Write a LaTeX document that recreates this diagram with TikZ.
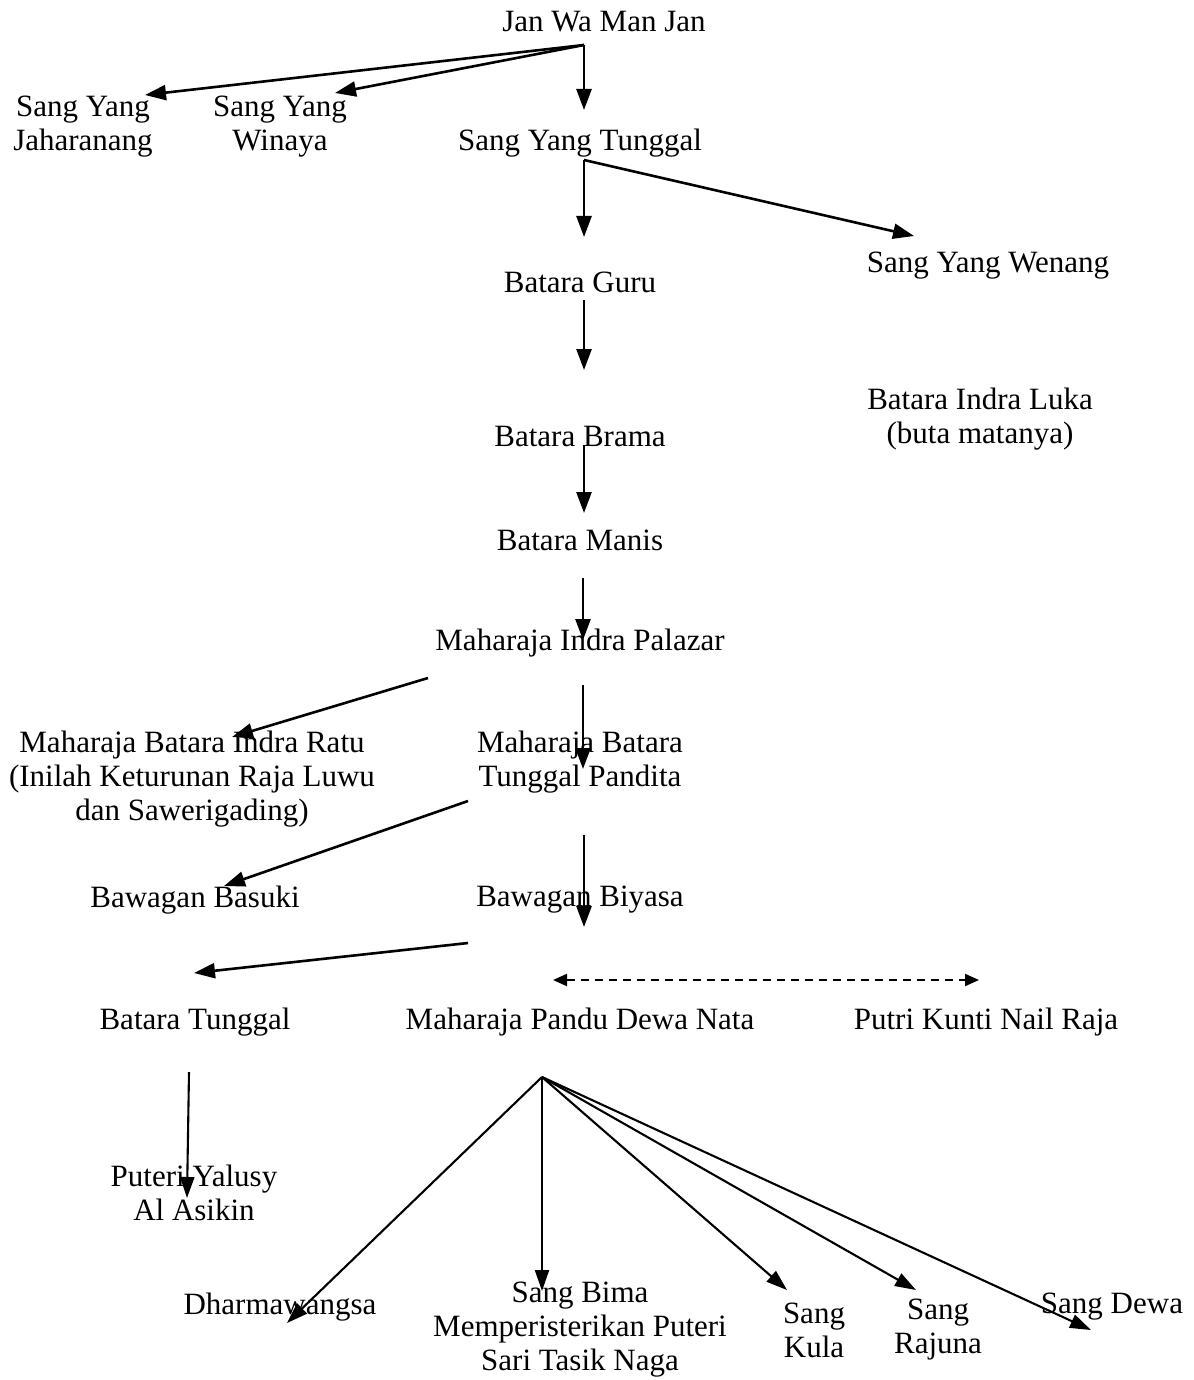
\documentclass[tikz,border=0pt]{standalone}
\usepackage{fontspec}
\setmainfont{Liberation Serif}
\usetikzlibrary{arrows.meta}
\begin{document}
\begin{tikzpicture}[x=1bp,y=-1bp,
  person/.style={font=\fontsize{31bp}{34bp}\selectfont, align=center, inner sep=0pt},
  link/.style={line width=2.6bp, -{Triangle[length=21bp,width=15bp]}},
  thinlink/.style={line width=2.1bp, -{Triangle[length=21bp,width=14bp]}},
  marriage/.style={line width=2bp, dash pattern=on 8bp off 6bp, {Triangle[length=14bp,width=12bp]}-{Triangle[length=14bp,width=12bp]}}]
\useasboundingbox (0,0) rectangle (1193,1380);

% family members
\node[person] (jan)    at (604,22)   {Jan Wa Man Jan};
\node[person] (jaha)   at (83,127)   {Sang Yang\\Jaharanang};
\node[person] (winaya) at (280,127)  {Sang Yang\\Winaya};
\node[person] (tunggal) at (580,143) {Sang Yang Tunggal};
\node[person] (wenang) at (988,266)  {Sang Yang Wenang};
\node[person] (guru)   at (580,282)  {Batara Guru};
\node[person] (luka)   at (980,419)  {Batara Indra Luka\\(buta matanya)};
\node[person] (brama)  at (580,436)  {Batara Brama};
\node[person] (manis)  at (580,540)  {Batara Manis};
\node[person] (palazar) at (580,643) {Maharaja Indra Palazar};
\node[person] (ratu)   at (192,779)  {Maharaja Batara Indra Ratu\\(Inilah Keturunan Raja Luwu\\dan Sawerigading)};
\node[person] (pandita) at (580,762) {Maharaja Batara\\Tunggal Pandita};
\node[person] (basuki) at (195,900)  {Bawagan Basuki};
\node[person] (biyasa) at (580,900)  {Bawagan Biyasa};
\node[person] (btunggal) at (195,1022) {Batara Tunggal};
\node[person] (pandu)  at (580,1022) {Maharaja Pandu Dewa Nata};
\node[person] (kunti)  at (986,1022) {Putri Kunti Nail Raja};
\node[person] (yalusy) at (194,1193) {Puteri Yalusy\\Al Asikin};
\node[person] (dharma) at (280,1307) {Dharmawangsa};
\node[person] (bima)   at (580,1330) {Sang Bima\\Memperisterikan Puteri\\Sari Tasik Naga};
\node[person] (kula)   at (814,1330) {Sang\\Kula};
\node[person] (rajuna) at (938,1330) {Sang\\Rajuna};
\node[person] (dewa)   at (1112,1307) {Sang Dewa};

% connector end points
\coordinate (janS)     at (584,45);
\coordinate (jahaT)    at (145,95);
\coordinate (winayaT)  at (335,93);
\coordinate (tunggalT) at (584,110);
\coordinate (tunggalS) at (584,160);
\coordinate (guruT)    at (584,237);
\coordinate (wenangT)  at (914,236);
\coordinate (guruS)    at (584,300);
\coordinate (bramaT)   at (584,370);
\coordinate (bramaS)   at (584,445);
\coordinate (manisT)   at (584,513);
\coordinate (manisS)   at (583,578);
\coordinate (palazarT) at (583,640);
\coordinate (palazarS) at (583,685);
\coordinate (palazarW) at (428,678);
\coordinate (panditaT) at (583,769);
\coordinate (ratuT)    at (232,737);
\coordinate (panditaW) at (468,801);
\coordinate (basukiT)  at (224,886);
\coordinate (panditaS) at (584,835);
\coordinate (biyasaT)  at (584,927);
\coordinate (biyasaW)  at (468,943);
\coordinate (btunggalT) at (194,973);
\coordinate (panduE)   at (553,980);
\coordinate (kuntiW)   at (979,980);
\coordinate (btunggalS) at (189,1072);
\coordinate (yalusyT)  at (187,1198);
\coordinate (panduS)   at (542,1077);
\coordinate (dharmaT)  at (287,1323);
\coordinate (bimaT)    at (542,1291);
\coordinate (kulaT)    at (787,1290);
\coordinate (rajunaT)  at (916,1290);
\coordinate (dewaT)    at (1091,1330);

% descent lines
\draw[link] (janS) -- (jahaT);
\draw[link] (janS) -- (winayaT);
\draw[link] (janS) -- (tunggalT);
\draw[link] (tunggalS) -- (guruT);
\draw[link] (tunggalS) -- (wenangT);
\draw[link] (guruS) -- (bramaT);
\draw[link] (bramaS) -- (manisT);
\draw[link] (manisS) -- (palazarT);
\draw[link] (palazarS) -- (panditaT);
\draw[link] (palazarW) -- (ratuT);
\draw[link] (panditaW) -- (basukiT);
\draw[link] (panditaS) -- (biyasaT);
\draw[link] (biyasaW) -- (btunggalT);
\draw[marriage] (panduE) -- (kuntiW);
\draw[thinlink] (btunggalS) -- (yalusyT);
\draw[thinlink] (panduS) -- (dharmaT);
\draw[thinlink] (panduS) -- (bimaT);
\draw[thinlink] (panduS) -- (kulaT);
\draw[thinlink] (panduS) -- (rajunaT);
\draw[thinlink] (panduS) -- (dewaT);
\end{tikzpicture}
\end{document}
